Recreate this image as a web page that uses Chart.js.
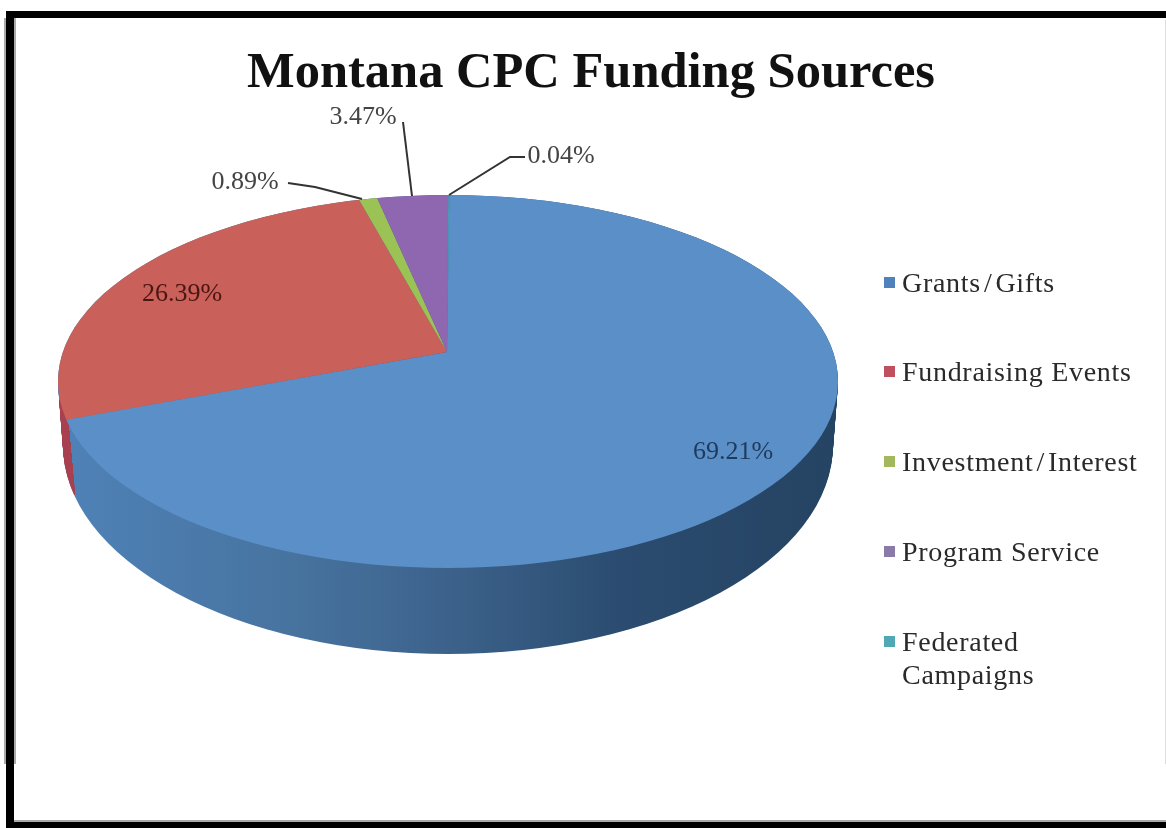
<!DOCTYPE html>
<html><head><meta charset="utf-8">
<style>html,body{margin:0;padding:0;background:#fff;overflow:hidden}canvas{display:block;filter:blur(.5px)}</style>
<script src="https://cdn.jsdelivr.net/npm/chart.js@4/dist/chart.umd.js"></script>
</head><body><canvas id="c" width="1166" height="828"></canvas>
<script>
const categories = ["Grants/Gifts","Fundraising Events","Investment/Interest","Program Service","Federated Campaigns"];
const shares = [69.21,26.39,0.89,3.47,0.04];
const sliceColors = ["#5b8fc8","#c9605a","#9bc255","#8f66b0","#4bacc6"];
const legendColors = ["#4f81bd","#c05060","#a3b85c","#8a7aa8","#4fa8b4"];
const legendLines = [["Grants\u200A/\u200AGifts"],["Fundraising Events"],["Investment\u200A/\u200AInterest"],["Program Service"],["Federated","Campaigns"]];
const chartTitle = "Montana CPC Funding Sources";

const top3d = {cx:448, cy:381.5, rx:390, ry:186.5};
const bottom3d = {cx:448, cy:445, rx:385, ry:209};
const apex = {x:447, y:352};
const squash = 0.478, zoomK = 1.2, startRotation = 0.4;
const SERIF = '"Liberation Serif","DejaVu Serif",serif';

const labelPlaces = [[733,452],[182,294],[245,182],[363,117],[561,156]];
const leaders = [null,null,[[288,183],[315,187],[362,199]],[[403,122],[412,196]],[[525,157],[510,157],[449,195]]];
const legendY = [285,374,464,554,644];

function ellipsePath(ctx,e){ctx.beginPath();ctx.ellipse(e.cx,e.cy,e.rx,e.ry,0,0,Math.PI*2);}

const pie3d = {
  id:'pie3d',
  beforeDraw(chart){
    const ctx=chart.ctx;
    ctx.save();
    ctx.fillStyle='#fff';ctx.fillRect(0,0,1166,828);
    ctx.fillStyle='#000';
    ctx.fillRect(6,11,8,817);
    ctx.fillRect(6,11,1160,7);
    ctx.fillRect(6,822,1160,6);
    ctx.fillStyle='#aaa';
    ctx.fillRect(14,820,1152,2);
    ctx.fillRect(4,18,2,746);
    ctx.fillRect(14,18,2,746);
    ctx.fillStyle='#ddd';
    ctx.fillRect(1165,20,1,744);
    ctx.restore();
  },
  beforeDatasetsDraw(chart){
    const ctx=chart.ctx, arc=chart.getDatasetMeta(0).data[0];
    const g=ctx.createLinearGradient(60,0,838,0);
    g.addColorStop(0,'#4f82b8');g.addColorStop(.3,'#47739f');g.addColorStop(.5,'#3c628b');
    g.addColorStop(.72,'#2b4c70');g.addColorStop(1,'#254362');
    const sweep=(fill)=>{
      ctx.fillStyle=fill;
      for(let i=0;i<=40;i++){
        const t=i/40;
        ellipsePath(ctx,{cx:top3d.cx+(bottom3d.cx-top3d.cx)*t,cy:top3d.cy+(bottom3d.cy-top3d.cy)*t,
          rx:top3d.rx+(bottom3d.rx-top3d.rx)*t,ry:top3d.ry+(bottom3d.ry-top3d.ry)*t});
        ctx.fill();
      }
    };
    sweep(g);
    ctx.save();
    ctx.beginPath();ctx.moveTo(40,400);ctx.lineTo(66,400);ctx.lineTo(75,495);ctx.lineTo(40,495);ctx.closePath();ctx.clip();
    sweep('#a9404f');
    ctx.restore();
    ctx.save();
    ellipsePath(ctx,top3d);ctx.clip();
    ctx.translate(apex.x,apex.y);
    ctx.scale(zoomK,zoomK*squash);
    ctx.translate(-arc.x,-arc.y);
  },
  afterDatasetsDraw(chart){ chart.ctx.restore(); },
  afterDraw(chart){
    const ctx=chart.ctx;
    ctx.save();
    ctx.textBaseline='middle';
    ctx.fillStyle='#111';ctx.textAlign='center';
    ctx.font='bold 50.5px '+SERIF;
    ctx.fillText(chartTitle,591,74);
    ctx.font='26px '+SERIF;
    shares.forEach((v,i)=>{
      ctx.fillStyle=i===0?'#1f3a5c':(i===1?'#4a1512':'#444');
      ctx.fillText(v.toFixed(2)+'%',labelPlaces[i][0],labelPlaces[i][1]);
    });
    ctx.strokeStyle='#333';ctx.lineWidth=2;
    leaders.forEach(l=>{ if(!l)return; ctx.beginPath();l.forEach((p,j)=>j?ctx.lineTo(p[0],p[1]):ctx.moveTo(p[0],p[1]));ctx.stroke();});
    ctx.textAlign='left';ctx.font='28px '+SERIF;ctx.letterSpacing='0.7px';
    legendLines.forEach((lines,i)=>{
      ctx.fillStyle=legendColors[i];ctx.fillRect(884,legendY[i]-8,11,11);
      ctx.fillStyle='#2a2a2a';
      lines.forEach((s,j)=>ctx.fillText(s,902,legendY[i]+j*33));
    });
    ctx.restore();
  }
};

new Chart(document.getElementById('c'),{
  type:'pie',
  data:{labels:categories,datasets:[{data:shares,backgroundColor:sliceColors,borderWidth:0,clip:false}]},
  options:{responsive:false,animation:false,events:[],rotation:startRotation,
    plugins:{legend:{display:false},title:{display:false},tooltip:{enabled:false}},
    layout:{padding:0}},
  plugins:[pie3d]
});
</script></body></html>
